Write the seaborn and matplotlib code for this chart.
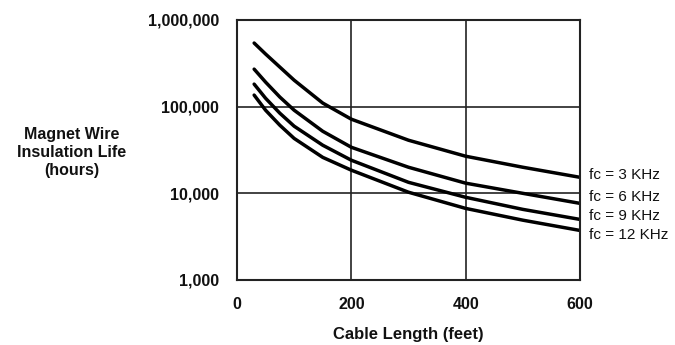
import matplotlib
matplotlib.use("Agg")
import matplotlib.pyplot as plt
import matplotlib.ticker as mticker
import pandas as pd
import seaborn as sns

# values
cable_length = [30, 50, 75, 100, 150, 200, 300, 400, 500, 600]
life_3k = [542000, 405000, 286000, 202000, 110000, 71700, 41000, 26800, 20000, 15300]
life_6k = [271000, 192000, 129000, 91000, 52000, 34000, 20000, 13100, 10000, 7660]
life_9k = [182000, 125000, 84000, 59500, 35900, 24100, 13400, 9000, 6530, 5000]
life_12k = [136000, 91000, 61000, 43000, 26000, 18500, 10300, 6700, 4900, 3730]
series_labels = ["fc = 3 KHz", "fc = 6 KHz", "fc = 9 KHz", "fc = 12 KHz"]

x_ticks = [0, 200, 400, 600]
y_ticks = [1000, 10000, 100000, 1000000]

frames = []
for label, vals in zip(series_labels, [life_3k, life_6k, life_9k, life_12k]):
    frames.append(pd.DataFrame({"length": cable_length, "life": vals, "fc": label}))
df = pd.concat(frames, ignore_index=True)

sns.set_theme(style="white")
plt.rcParams["font.family"] = ["Liberation Sans", "DejaVu Sans"]

fig = plt.figure(figsize=(6.75, 3.45), dpi=100)
ax = fig.add_axes([237 / 675, 1 - 280 / 345, 343 / 675, 260 / 345])

sns.lineplot(data=df, x="length", y="life", hue="fc", palette=["black"] * 4,
             linewidth=2.5, legend=False, ax=ax)

ax.set_yscale("log")
ax.set_xlim(0, 600)
ax.set_ylim(1000, 1000000)
ax.set_xticks(x_ticks)
ax.set_yticks(y_ticks)
ax.yaxis.set_minor_locator(mticker.NullLocator())
ax.yaxis.set_major_formatter(mticker.FuncFormatter(lambda v, p: f"{int(v):,}"))
ax.tick_params(axis="both", length=0, labelsize=11.5)
ax.tick_params(axis="y", pad=13)
ax.tick_params(axis="x", pad=12)
for lab in ax.get_xticklabels() + ax.get_yticklabels():
    lab.set_fontweight("bold")
    lab.set_color("#111111")

ax.grid(True, which="major", color="#222222", linewidth=1.2)
for sp in ax.spines.values():
    sp.set_visible(True)
    sp.set_color("#222222")
    sp.set_linewidth(1.5)

ax.set_xlabel("")
ax.set_ylabel("")
fig.text(408 / 675, 1 - 335 / 345, "Cable Length (feet)", ha="center", va="center",
         fontsize=12, fontweight="bold", color="#111111")
fig.text(72 / 675, 1 - 152 / 345, "Magnet Wire\nInsulation Life\n(hours)", ha="center",
         va="center", fontsize=11.5, fontweight="bold", color="#111111", linespacing=1.25)

label_y = [0.404, 0.319, 0.246, 0.173]
for label, yy in zip(series_labels, label_y):
    ax.text(1.025, yy, label, transform=ax.transAxes, ha="left", va="center",
            fontsize=11, color="#111111")

fig.savefig("out.png", dpi=100)
